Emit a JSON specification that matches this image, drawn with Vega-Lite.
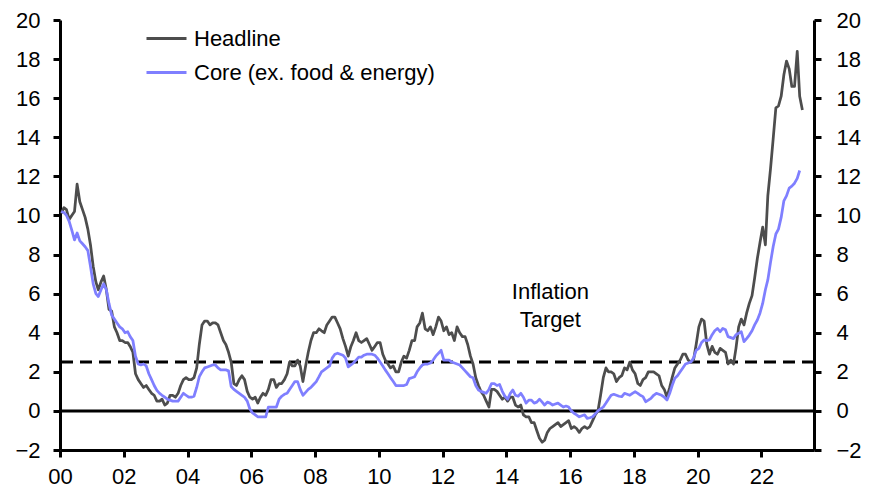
{
  "$schema": "https://vega.github.io/schema/vega-lite/v6.json",
  "width": 754,
  "height": 430,
  "autosize": {"type": "none"},
  "padding": {"left": 60, "top": 20, "right": 70, "bottom": 46},
  "background": "#ffffff",
  "config": {
    "view": {"stroke": null},
    "font": "Liberation Sans",
    "axis": {"domainColor": "#000000", "domainWidth": 3, "tickColor": "#000000", "tickWidth": 3, "tickSize": 7, "labelFont": "Liberation Sans", "labelFontSize": 22, "labelColor": "#000000", "grid": false, "title": null},
    "legend": {"labelFont": "Liberation Sans", "labelFontSize": 22, "labelColor": "#000000", "labelLimit": 0}
  },
  "resolve": {"axis": {"y": "independent"}},
  "layer": [
    {
      "data": {"values": [{}]},
      "mark": {"type": "rule", "color": "#000000", "strokeWidth": 3},
      "encoding": {"y": {"datum": 0, "type": "quantitative", "scale": {"domain": [-2, 20], "nice": false, "zero": false}, "axis": {"orient": "left", "values": [-2,0,2,4,6,8,10,12,14,16,18,20], "labelPadding": 13}}}
    },
    {
      "data": {"values": [{}]},
      "mark": {"type": "rule", "color": "#000000", "strokeWidth": 3, "strokeDash": [12, 7]},
      "encoding": {"y": {"datum": 2.5, "type": "quantitative", "scale": {"domain": [-2, 20], "nice": false, "zero": false}, "axis": {"orient": "right", "values": [-2,0,2,4,6,8,10,12,14,16,18,20], "labelPadding": 15}}}
    },
    {
      "data": {"values": [
{"date":"2000-01-15","headline":10.1,"core":10.2},{"date":"2000-02-15","headline":10.4,"core":10.15},{"date":"2000-03-15","headline":10.3,"core":10.0},{"date":"2000-04-15","headline":9.8,"core":9.7},{"date":"2000-05-15","headline":10.0,"core":9.25},{"date":"2000-06-15","headline":10.2,"core":8.75},{"date":"2000-07-15","headline":11.6,"core":9.1},{"date":"2000-08-15","headline":10.7,"core":8.7},{"date":"2000-09-15","headline":10.3,"core":8.55},{"date":"2000-10-15","headline":9.9,"core":8.4},{"date":"2000-11-15","headline":9.3,"core":8.2},{"date":"2000-12-15","headline":8.5,"core":7.4},
{"date":"2001-01-15","headline":7.4,"core":6.5},{"date":"2001-02-15","headline":6.6,"core":6.0},{"date":"2001-03-15","headline":6.2,"core":5.85},{"date":"2001-04-15","headline":6.6,"core":6.2},{"date":"2001-05-15","headline":6.9,"core":6.5},{"date":"2001-06-15","headline":6.2,"core":6.2},{"date":"2001-07-15","headline":5.2,"core":5.5},{"date":"2001-08-15","headline":5.1,"core":4.9},{"date":"2001-09-15","headline":4.3,"core":4.7},{"date":"2001-10-15","headline":4.0,"core":4.5},{"date":"2001-11-15","headline":3.6,"core":4.3},{"date":"2001-12-15","headline":3.6,"core":4.2},
{"date":"2002-01-15","headline":3.5,"core":4.0},{"date":"2002-02-15","headline":3.5,"core":4.05},{"date":"2002-03-15","headline":3.3,"core":3.8},{"date":"2002-04-15","headline":3.0,"core":3.6},{"date":"2002-05-15","headline":1.9,"core":2.8},{"date":"2002-06-15","headline":1.6,"core":2.4},{"date":"2002-07-15","headline":1.4,"core":2.35},{"date":"2002-08-15","headline":1.2,"core":2.4},{"date":"2002-09-15","headline":1.3,"core":2.3},{"date":"2002-10-15","headline":1.1,"core":1.9},{"date":"2002-11-15","headline":0.9,"core":1.6},{"date":"2002-12-15","headline":0.8,"core":1.3},
{"date":"2003-01-15","headline":0.5,"core":1.05},{"date":"2003-02-15","headline":0.5,"core":0.9},{"date":"2003-03-15","headline":0.6,"core":0.8},{"date":"2003-04-15","headline":0.3,"core":0.7},{"date":"2003-05-15","headline":0.4,"core":0.6},{"date":"2003-06-15","headline":0.8,"core":0.55},{"date":"2003-07-15","headline":0.8,"core":0.5},{"date":"2003-08-15","headline":0.7,"core":0.5},{"date":"2003-09-15","headline":0.9,"core":0.5},{"date":"2003-10-15","headline":1.3,"core":0.7},{"date":"2003-11-15","headline":1.6,"core":0.9},{"date":"2003-12-15","headline":1.7,"core":0.8},
{"date":"2004-01-15","headline":1.6,"core":0.7},{"date":"2004-02-15","headline":1.6,"core":0.7},{"date":"2004-03-15","headline":1.7,"core":0.75},{"date":"2004-04-15","headline":2.2,"core":1.2},{"date":"2004-05-15","headline":3.4,"core":1.75},{"date":"2004-06-15","headline":4.4,"core":2.0},{"date":"2004-07-15","headline":4.6,"core":2.2},{"date":"2004-08-15","headline":4.6,"core":2.25},{"date":"2004-09-15","headline":4.4,"core":2.3},{"date":"2004-10-15","headline":4.5,"core":2.35},{"date":"2004-11-15","headline":4.5,"core":2.35},{"date":"2004-12-15","headline":4.4,"core":2.2},
{"date":"2005-01-15","headline":4.0,"core":2.1},{"date":"2005-02-15","headline":3.6,"core":2.1},{"date":"2005-03-15","headline":3.4,"core":2.1},{"date":"2005-04-15","headline":3.0,"core":2.05},{"date":"2005-05-15","headline":2.5,"core":1.25},{"date":"2005-06-15","headline":1.4,"core":1.1},{"date":"2005-07-15","headline":1.3,"core":1.0},{"date":"2005-08-15","headline":1.6,"core":0.9},{"date":"2005-09-15","headline":1.8,"core":0.8},{"date":"2005-10-15","headline":1.6,"core":0.7},{"date":"2005-11-15","headline":1.0,"core":0.5},{"date":"2005-12-15","headline":0.7,"core":0.1},
{"date":"2006-01-15","headline":0.6,"core":-0.1},{"date":"2006-02-15","headline":0.7,"core":-0.2},{"date":"2006-03-15","headline":0.4,"core":-0.3},{"date":"2006-04-15","headline":0.7,"core":-0.3},{"date":"2006-05-15","headline":0.9,"core":-0.3},{"date":"2006-06-15","headline":0.8,"core":-0.3},{"date":"2006-07-15","headline":1.1,"core":0.2},{"date":"2006-08-15","headline":1.6,"core":0.2},{"date":"2006-09-15","headline":1.6,"core":0.2},{"date":"2006-10-15","headline":1.2,"core":0.2},{"date":"2006-11-15","headline":1.4,"core":0.6},{"date":"2006-12-15","headline":1.4,"core":0.75},
{"date":"2007-01-15","headline":1.6,"core":0.85},{"date":"2007-02-15","headline":1.9,"core":0.9},{"date":"2007-03-15","headline":2.5,"core":1.1},{"date":"2007-04-15","headline":2.3,"core":1.3},{"date":"2007-05-15","headline":2.3,"core":1.5},{"date":"2007-06-15","headline":2.6,"core":1.5},{"date":"2007-07-15","headline":2.3,"core":1.1},{"date":"2007-08-15","headline":1.5,"core":0.8},{"date":"2007-09-15","headline":2.3,"core":0.95},{"date":"2007-10-15","headline":3.0,"core":1.1},{"date":"2007-11-15","headline":3.6,"core":1.2},{"date":"2007-12-15","headline":4.0,"core":1.35},
{"date":"2008-01-15","headline":4.0,"core":1.5},{"date":"2008-02-15","headline":4.2,"core":1.75},{"date":"2008-03-15","headline":4.1,"core":2.0},{"date":"2008-04-15","headline":4.0,"core":2.1},{"date":"2008-05-15","headline":4.4,"core":2.2},{"date":"2008-06-15","headline":4.6,"core":2.3},{"date":"2008-07-15","headline":4.8,"core":2.7},{"date":"2008-08-15","headline":4.8,"core":2.9},{"date":"2008-09-15","headline":4.5,"core":2.95},{"date":"2008-10-15","headline":4.2,"core":2.9},{"date":"2008-11-15","headline":3.7,"core":2.85},{"date":"2008-12-15","headline":3.3,"core":2.7},
{"date":"2009-01-15","headline":2.8,"core":2.25},{"date":"2009-02-15","headline":3.3,"core":2.35},{"date":"2009-03-15","headline":3.6,"core":2.45},{"date":"2009-04-15","headline":4.0,"core":2.6},{"date":"2009-05-15","headline":3.6,"core":2.75},{"date":"2009-06-15","headline":3.5,"core":2.75},{"date":"2009-07-15","headline":3.6,"core":2.85},{"date":"2009-08-15","headline":3.7,"core":2.9},{"date":"2009-09-15","headline":3.4,"core":2.9},{"date":"2009-10-15","headline":3.1,"core":2.9},{"date":"2009-11-15","headline":3.3,"core":2.85},{"date":"2009-12-15","headline":3.5,"core":2.7},
{"date":"2010-01-15","headline":3.5,"core":2.5},{"date":"2010-02-15","headline":2.9,"core":2.3},{"date":"2010-03-15","headline":2.6,"core":2.1},{"date":"2010-04-15","headline":2.4,"core":1.9},{"date":"2010-05-15","headline":2.2,"core":1.7},{"date":"2010-06-15","headline":2.3,"core":1.5},{"date":"2010-07-15","headline":2.0,"core":1.3},{"date":"2010-08-15","headline":2.0,"core":1.3},{"date":"2010-09-15","headline":2.5,"core":1.3},{"date":"2010-10-15","headline":2.8,"core":1.3},{"date":"2010-11-15","headline":2.7,"core":1.35},{"date":"2010-12-15","headline":3.1,"core":1.65},
{"date":"2011-01-15","headline":3.6,"core":1.7},{"date":"2011-02-15","headline":3.6,"core":1.75},{"date":"2011-03-15","headline":4.3,"core":2.0},{"date":"2011-04-15","headline":4.5,"core":2.2},{"date":"2011-05-15","headline":5.0,"core":2.35},{"date":"2011-06-15","headline":4.2,"core":2.4},{"date":"2011-07-15","headline":4.1,"core":2.4},{"date":"2011-08-15","headline":4.3,"core":2.45},{"date":"2011-09-15","headline":3.9,"core":2.6},{"date":"2011-10-15","headline":4.3,"core":2.8},{"date":"2011-11-15","headline":4.8,"core":2.95},{"date":"2011-12-15","headline":4.6,"core":3.1},
{"date":"2012-01-15","headline":4.1,"core":2.6},{"date":"2012-02-15","headline":4.3,"core":2.6},{"date":"2012-03-15","headline":3.9,"core":2.6},{"date":"2012-04-15","headline":4.0,"core":2.5},{"date":"2012-05-15","headline":3.6,"core":2.45},{"date":"2012-06-15","headline":4.3,"core":2.4},{"date":"2012-07-15","headline":4.0,"core":2.35},{"date":"2012-08-15","headline":3.8,"core":2.2},{"date":"2012-09-15","headline":3.8,"core":2.05},{"date":"2012-10-15","headline":3.4,"core":1.9},{"date":"2012-11-15","headline":2.8,"core":1.75},{"date":"2012-12-15","headline":2.4,"core":1.7},
{"date":"2013-01-15","headline":1.7,"core":1.3},{"date":"2013-02-15","headline":1.3,"core":1.07},{"date":"2013-03-15","headline":1.0,"core":1.0},{"date":"2013-04-15","headline":0.8,"core":0.95},{"date":"2013-05-15","headline":0.5,"core":0.9},{"date":"2013-06-15","headline":0.2,"core":1.1},{"date":"2013-07-15","headline":1.1,"core":1.4},{"date":"2013-08-15","headline":1.1,"core":1.4},{"date":"2013-09-15","headline":1.0,"core":1.3},{"date":"2013-10-15","headline":0.8,"core":1.35},{"date":"2013-11-15","headline":0.6,"core":1.0},{"date":"2013-12-15","headline":0.7,"core":0.75},
{"date":"2014-01-15","headline":0.5,"core":0.6},{"date":"2014-02-15","headline":0.7,"core":0.9},{"date":"2014-03-15","headline":0.7,"core":1.07},{"date":"2014-04-15","headline":0.3,"core":0.8},{"date":"2014-05-15","headline":0.2,"core":0.75},{"date":"2014-06-15","headline":0.3,"core":0.9},{"date":"2014-07-15","headline":-0.2,"core":0.7},{"date":"2014-08-15","headline":-0.3,"core":0.4},{"date":"2014-09-15","headline":-0.3,"core":0.55},{"date":"2014-10-15","headline":-0.6,"core":0.55},{"date":"2014-11-15","headline":-0.6,"core":0.4},{"date":"2014-12-15","headline":-1.0,"core":0.45},
{"date":"2015-01-15","headline":-1.4,"core":0.6},{"date":"2015-02-15","headline":-1.6,"core":0.45},{"date":"2015-03-15","headline":-1.5,"core":0.3},{"date":"2015-04-15","headline":-1.1,"core":0.45},{"date":"2015-05-15","headline":-0.9,"core":0.4},{"date":"2015-06-15","headline":-0.8,"core":0.3},{"date":"2015-07-15","headline":-0.7,"core":0.35},{"date":"2015-08-15","headline":-0.6,"core":0.4},{"date":"2015-09-15","headline":-0.8,"core":0.3},{"date":"2015-10-15","headline":-0.7,"core":0.2},{"date":"2015-11-15","headline":-0.6,"core":0.25},{"date":"2015-12-15","headline":-0.5,"core":0.2},
{"date":"2016-01-15","headline":-0.9,"core":0.0},{"date":"2016-02-15","headline":-0.8,"core":-0.12},{"date":"2016-03-15","headline":-0.9,"core":-0.2},{"date":"2016-04-15","headline":-1.1,"core":-0.3},{"date":"2016-05-15","headline":-0.9,"core":-0.25},{"date":"2016-06-15","headline":-0.8,"core":-0.2},{"date":"2016-07-15","headline":-0.9,"core":-0.38},{"date":"2016-08-15","headline":-0.8,"core":-0.35},{"date":"2016-09-15","headline":-0.5,"core":-0.3},{"date":"2016-10-15","headline":-0.2,"core":-0.15},{"date":"2016-11-15","headline":0.0,"core":0.0},{"date":"2016-12-15","headline":0.8,"core":0.1},
{"date":"2017-01-15","headline":1.7,"core":0.2},{"date":"2017-02-15","headline":2.2,"core":0.4},{"date":"2017-03-15","headline":2.0,"core":0.6},{"date":"2017-04-15","headline":2.0,"core":0.8},{"date":"2017-05-15","headline":1.9,"core":0.85},{"date":"2017-06-15","headline":1.5,"core":0.8},{"date":"2017-07-15","headline":1.7,"core":0.75},{"date":"2017-08-15","headline":1.8,"core":0.73},{"date":"2017-09-15","headline":2.2,"core":0.9},{"date":"2017-10-15","headline":2.1,"core":0.85},{"date":"2017-11-15","headline":2.5,"core":0.8},{"date":"2017-12-15","headline":2.1,"core":0.9},
{"date":"2018-01-15","headline":1.9,"core":0.98},{"date":"2018-02-15","headline":1.4,"core":0.9},{"date":"2018-03-15","headline":1.3,"core":0.8},{"date":"2018-04-15","headline":1.6,"core":0.73},{"date":"2018-05-15","headline":1.7,"core":0.47},{"date":"2018-06-15","headline":2.0,"core":0.55},{"date":"2018-07-15","headline":2.0,"core":0.64},{"date":"2018-08-15","headline":2.0,"core":0.8},{"date":"2018-09-15","headline":1.9,"core":0.9},{"date":"2018-10-15","headline":1.8,"core":0.85},{"date":"2018-11-15","headline":1.3,"core":0.8},{"date":"2018-12-15","headline":1.1,"core":0.7},
{"date":"2019-01-15","headline":0.7,"core":0.56},{"date":"2019-02-15","headline":1.2,"core":0.9},{"date":"2019-03-15","headline":1.7,"core":1.3},{"date":"2019-04-15","headline":2.2,"core":1.67},{"date":"2019-05-15","headline":2.4,"core":1.8},{"date":"2019-06-15","headline":2.6,"core":2.0},{"date":"2019-07-15","headline":2.9,"core":2.2},{"date":"2019-08-15","headline":2.9,"core":2.4},{"date":"2019-09-15","headline":2.6,"core":2.45},{"date":"2019-10-15","headline":2.5,"core":2.5},{"date":"2019-11-15","headline":2.6,"core":2.7},{"date":"2019-12-15","headline":3.4,"core":3.1},
{"date":"2020-01-15","headline":4.3,"core":3.2},{"date":"2020-02-15","headline":4.7,"core":3.5},{"date":"2020-03-15","headline":4.6,"core":3.63},{"date":"2020-04-15","headline":3.4,"core":3.6},{"date":"2020-05-15","headline":2.9,"core":3.63},{"date":"2020-06-15","headline":3.3,"core":3.9},{"date":"2020-07-15","headline":3.0,"core":4.1},{"date":"2020-08-15","headline":2.9,"core":4.22},{"date":"2020-09-15","headline":3.2,"core":4.05},{"date":"2020-10-15","headline":3.1,"core":4.22},{"date":"2020-11-15","headline":3.0,"core":4.15},{"date":"2020-12-15","headline":2.4,"core":3.8},
{"date":"2021-01-15","headline":2.6,"core":3.75},{"date":"2021-02-15","headline":2.4,"core":3.7},{"date":"2021-03-15","headline":3.2,"core":3.9},{"date":"2021-04-15","headline":4.3,"core":3.97},{"date":"2021-05-15","headline":4.7,"core":4.05},{"date":"2021-06-15","headline":4.4,"core":3.54},{"date":"2021-07-15","headline":5.0,"core":3.7},{"date":"2021-08-15","headline":5.5,"core":3.88},{"date":"2021-09-15","headline":5.9,"core":4.1},{"date":"2021-10-15","headline":6.8,"core":4.4},{"date":"2021-11-15","headline":7.8,"core":4.65},{"date":"2021-12-15","headline":8.6,"core":5.0},
{"date":"2022-01-15","headline":9.4,"core":5.5},{"date":"2022-02-15","headline":8.5,"core":6.2},{"date":"2022-03-15","headline":11.0,"core":6.7},{"date":"2022-04-15","headline":12.4,"core":7.6},{"date":"2022-05-15","headline":13.9,"core":8.4},{"date":"2022-06-15","headline":15.5,"core":9.05},{"date":"2022-07-15","headline":15.6,"core":9.3},{"date":"2022-08-15","headline":16.1,"core":9.9},{"date":"2022-09-15","headline":17.2,"core":10.75},{"date":"2022-10-15","headline":17.9,"core":11.0},{"date":"2022-11-15","headline":17.5,"core":11.4},{"date":"2022-12-15","headline":16.6,"core":11.5},
{"date":"2023-01-15","headline":16.6,"core":11.65},{"date":"2023-02-15","headline":18.4,"core":11.9},{"date":"2023-03-15","headline":16.1,"core":12.3},{"date":"2023-04-15","headline":15.4,"core":null}
      ]},
      "transform": [{"fold": ["headline", "core"], "as": ["series", "value"]}],
      "mark": {"type": "line", "strokeWidth": 2.75, "strokeJoin": "round"},
      "encoding": {
        "x": {"field": "date", "type": "temporal", "scale": {"domain": [{"year": 2000, "month": 1, "date": 1}, {"year": 2023, "month": 8, "date": 26}]}, "axis": {"format": "%y", "tickCount": {"interval": "year", "step": 2}, "labelPadding": 9, "labelFlush": false, "labelOverlap": false}},
        "y": {"field": "value", "type": "quantitative", "scale": {"domain": [-2, 20], "nice": false, "zero": false}, "axis": null},
        "color": {"field": "series", "type": "nominal", "scale": {"domain": ["headline", "core"], "range": ["#4d4d4d", "#7f7fff"]}, "legend": {"orient": "none", "legendX": 85, "legendY": -3, "title": null, "padding": 0, "symbolType": "stroke", "symbolSize": 1600, "symbolStrokeWidth": 3, "labelOffset": 6, "rowPadding": 1, "labelLimit": 0, "labelExpr": "datum.value == 'headline' ? 'Headline' : 'Core (ex. food & energy)'"}}
      }
    },
    {
      "data": {"values": [{}]},
      "mark": {"type": "text", "text": ["Inflation", "Target"], "fontSize": 22, "font": "Liberation Sans", "color": "#000000", "align": "center", "baseline": "middle", "lineHeight": 28},
      "encoding": {
        "x": {"datum": {"year": 2015, "month": 5, "date": 20}, "type": "temporal"},
        "y": {"datum": 6.08, "type": "quantitative", "scale": {"domain": [-2, 20], "nice": false, "zero": false}, "axis": null}
      }
    }
  ]
}
